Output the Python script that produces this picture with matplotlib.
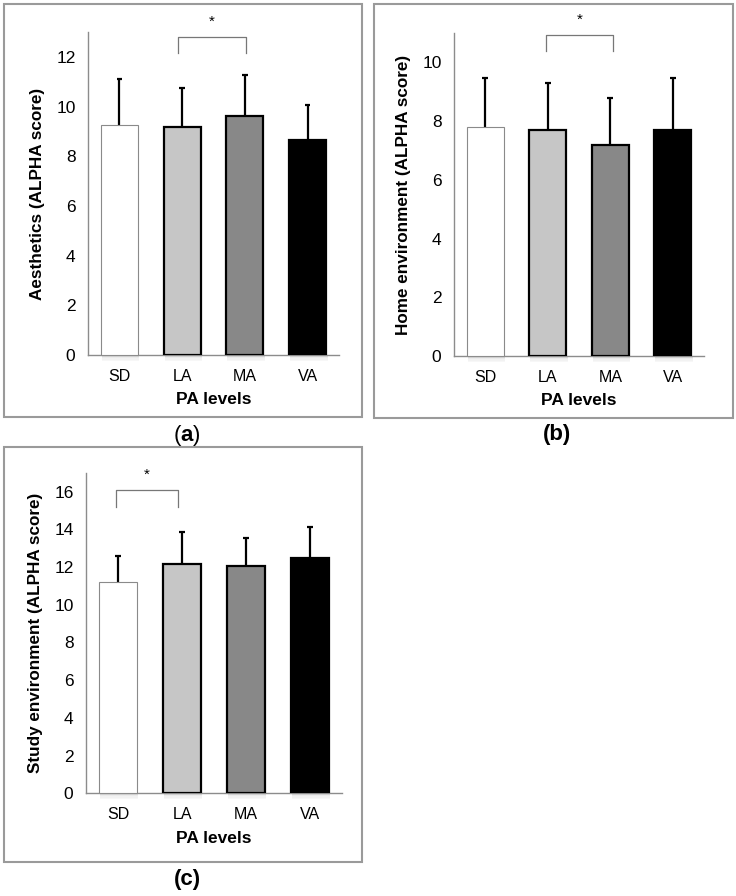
import matplotlib
matplotlib.use("Agg")
import matplotlib.pyplot as plt
from matplotlib.patches import Rectangle
import numpy as np

plt.rcParams['font.family'] = ['Liberation Sans', 'DejaVu Sans']
plt.rcParams['mathtext.fontset'] = 'custom'
plt.rcParams['mathtext.rm'] = 'Liberation Sans'
plt.rcParams['mathtext.bf'] = 'Liberation Sans:bold'

categories = ["SD", "LA", "MA", "VA"]
bar_colors = ["#ffffff", "#c6c6c6", "#888888", "#000000"]
edge_colors = ["#8a8a8a", "#000000", "#000000", "#000000"]

aesthetics_mean = [9.25, 9.18, 9.62, 8.65]
aesthetics_sd = [1.85, 1.58, 1.64, 1.40]

home_mean = [7.81, 7.68, 7.17, 7.68]
home_sd = [1.66, 1.61, 1.62, 1.79]

study_mean = [11.2, 12.17, 12.03, 12.47]
study_sd = [1.36, 1.69, 1.49, 1.66]

panels = [
    dict(mean=aesthetics_mean, sd=aesthetics_sd, ylabel="Aesthetics (ALPHA score)",
         ylim=13, ticks=[0, 2, 4, 6, 8, 10, 12], sig=(0.93, 2.02, 12.17, 12.8),
         rect=[88/736, 1-355/896, 251/736, 323/896],
         frame=(4, 4, 362, 417), label=r"($\mathbf{a}$)", lw="normal", label_xy=(187, 435)),
    dict(mean=home_mean, sd=home_sd, ylabel="Home environment (ALPHA score)",
         ylim=11, ticks=[0, 2, 4, 6, 8, 10], sig=(0.97, 2.05, 10.38, 10.93),
         rect=[454/736, 1-356/896, 250/736, 323/896],
         frame=(374, 4, 733, 418), label="(b)", lw="bold", label_xy=(557, 434)),
    dict(mean=study_mean, sd=study_sd, ylabel="Study environment (ALPHA score)",
         ylim=17, ticks=[0, 2, 4, 6, 8, 10, 12, 14, 16], sig=(-0.03, 0.94, 15.2, 16.08),
         rect=[86/736, 1-793.3/896, 256/736, 320.6/896],
         frame=(4, 447, 362, 862), label="(c)", lw="bold", label_xy=(187, 879)),
]

W, H = 736, 896
fig = plt.figure(figsize=(W/100, H/100), dpi=100)

for p in panels:
    x0, y0, x1, y1 = p["frame"]
    fig.patches.append(Rectangle((x0/W, 1-y1/H), (x1-x0)/W, (y1-y0)/H,
                                 transform=fig.transFigure, fill=False,
                                 edgecolor="#9a9a9a", linewidth=1.5))
    ax = fig.add_axes(p["rect"])
    x = np.arange(len(categories))
    u = p["ylim"] / 323.0  # data units per pixel (approx)
    # bar shadows
    for xi in x:
        for k, a in enumerate([0.12, 0.08, 0.05, 0.03]):
            ax.add_patch(Rectangle((xi - 0.28, -u*(1.5 + 1.5*k)), 0.6, u*1.5,
                                   facecolor="black", alpha=a, linewidth=0,
                                   zorder=1, clip_on=False))
    mean = np.array(p["mean"])
    top = mean + np.array(p["sd"])
    ax.vlines(x, mean, top, color="black", linewidth=1.6, zorder=2)
    ax.hlines(top, x - 0.045, x + 0.045, color="black", linewidth=1.6, zorder=2)
    ax.bar(x, mean, width=0.59, color=bar_colors, edgecolor=edge_colors,
           linewidth=[0.8, 1.6, 1.6, 1.6], zorder=3)
    ax.set_xlim(-0.5, 3.5)
    ax.set_ylim(0, p["ylim"])
    ax.set_yticks(p["ticks"])
    ax.set_xticks(x)
    ax.set_xticklabels(categories)
    ax.tick_params(axis="y", length=0, labelsize=12.5, pad=9)
    ax.tick_params(axis="x", length=0, labelsize=11.5, pad=10)
    for s in ["top", "right"]:
        ax.spines[s].set_visible(False)
    for s in ["left", "bottom"]:
        ax.spines[s].set_color("#8c8c8c")
        ax.spines[s].set_linewidth(1.0)
    ax.set_ylabel(p["ylabel"], fontsize=12.3, fontweight="bold", labelpad=8)
    ax.set_xlabel("PA levels", fontsize=12.5, fontweight="bold", labelpad=6)
    xa, xb, yb, yt = p["sig"]
    ax.plot([xa, xa, xb, xb], [yb, yt, yt, yb], color="#777777", linewidth=0.9,
            clip_on=False, zorder=4)
    ax.annotate("*", xy=((xa + xb)/2, yt), xytext=(0, 11), textcoords="offset points",
                ha="center", va="center", fontsize=11, annotation_clip=False)
    lx, ly = p["label_xy"]
    fig.text(lx/W, 1-ly/H, p["label"], ha="center", va="center", fontsize=16,
             fontweight=p["lw"])

fig.savefig("out.png", dpi=100)
